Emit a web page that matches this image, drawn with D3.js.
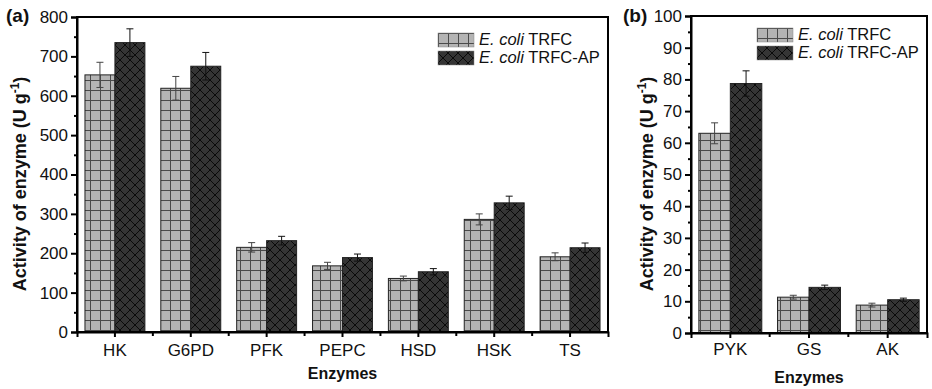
<!DOCTYPE html>
<html lang="en">
<head>
<meta charset="utf-8">
<script src="https://cdn.jsdelivr.net/npm/d3@7"></script>
<style>
  body { margin: 0; background: #fff; }
  svg { font-family: "Liberation Sans", Arial, sans-serif; }
</style>
</head>
<body>
<div id="chart"></div>
<script>
// panel (a)
var enzymesA = ["HK", "G6PD", "PFK", "PEPC", "HSD", "HSK", "TS"];
var trfcA = [653, 619, 215, 168, 136, 286, 191];
var trfcErrA = [32, 30, 12, 9, 6, 14, 10];
var apA = [735, 675, 232, 189, 153, 328, 214];
var apErrA = [35, 35, 11, 9, 8, 17, 12];
var yTicksA = [0, 100, 200, 300, 400, 500, 600, 700, 800];

// panel (b)
var enzymesB = ["PYK", "GS", "AK"];
var trfcB = [63, 11.3, 8.8];
var trfcErrB = [3.3, 0.6, 0.6];
var apB = [78.7, 14.4, 10.5];
var apErrB = [4, 0.7, 0.5];
var yTicksB = [0, 10, 20, 30, 40, 50, 60, 70, 80, 90, 100];

var seriesNames = ["TRFC", "TRFC-AP"];

var width = 932, height = 389;

var svg = d3.select("#chart").append("svg")
    .attr("width", width)
    .attr("height", height);

var defs = svg.append("defs");

var grid = defs.append("pattern")
    .attr("id", "grid")
    .attr("patternUnits", "userSpaceOnUse")
    .attr("width", 10).attr("height", 10);
grid.append("rect").attr("width", 10).attr("height", 10).attr("fill", "#b4b4b4");
grid.append("path").attr("d", "M0,0.5H10M0.5,0V10")
    .attr("stroke", "#4a4a4a").attr("stroke-width", 1).attr("fill", "none");

var cross = defs.append("pattern")
    .attr("id", "cross")
    .attr("patternUnits", "userSpaceOnUse")
    .attr("width", 10).attr("height", 10);
cross.append("rect").attr("width", 10).attr("height", 10).attr("fill", "#353535");
cross.append("path").attr("d", "M0,0L10,10M10,0L0,10M-1,9L1,11M9,-1L11,1")
    .attr("stroke", "#0a0a0a").attr("stroke-width", 1).attr("fill", "none");

var fills = ["url(#grid)", "url(#cross)"];

function drawPanel(cfg) {
    var x = d3.scaleBand()
        .domain(cfg.cats)
        .range([cfg.left, cfg.right])
        .paddingInner(cfg.pad)
        .paddingOuter(cfg.pad / 2);

    var x1 = d3.scaleBand()
        .domain([0, 1])
        .range([0, x.bandwidth()]);

    var y = d3.scaleLinear()
        .domain([0, cfg.ticks[cfg.ticks.length - 1]])
        .range([cfg.bottom, cfg.top]);

    var g = svg.append("g");

    var rows = cfg.cats.map(function(c, i) {
        return [
            {cat: c, s: 0, v: cfg.v0[i], e: cfg.e0[i]},
            {cat: c, s: 1, v: cfg.v1[i], e: cfg.e1[i]}
        ];
    });
    var flat = [].concat.apply([], rows);

    // bars
    g.selectAll("rect.bar")
        .data(flat)
        .enter()
        .append("rect")
        .attr("class", "bar")
        .attr("x", function(d) { return x(d.cat) + x1(d.s); })
        .attr("y", function(d) { return y(d.v); })
        .attr("width", x1.bandwidth())
        .attr("height", function(d) { return y(0) - y(d.v); })
        .attr("fill", function(d) { return fills[d.s]; })
        .attr("stroke", "#222")
        .attr("stroke-width", 1);

    // error bars
    var eb = g.selectAll("g.err")
        .data(flat)
        .enter()
        .append("g")
        .attr("class", "err")
        .attr("stroke", function(d) { return d.s ? "#111" : "#444"; })
        .attr("stroke-width", 1);
    eb.append("line")
        .attr("x1", function(d) { return x(d.cat) + x1(d.s) + x1.bandwidth() / 2; })
        .attr("x2", function(d) { return x(d.cat) + x1(d.s) + x1.bandwidth() / 2; })
        .attr("y1", function(d) { return y(d.v - d.e); })
        .attr("y2", function(d) { return y(d.v + d.e); });
    [1, -1].forEach(function(sign) {
        eb.append("line")
            .attr("x1", function(d) { return x(d.cat) + x1(d.s) + x1.bandwidth() / 2 - 3.5; })
            .attr("x2", function(d) { return x(d.cat) + x1(d.s) + x1.bandwidth() / 2 + 3.5; })
            .attr("y1", function(d) { return y(d.v + sign * d.e); })
            .attr("y2", function(d) { return y(d.v + sign * d.e); });
    });

    // frame
    g.append("rect")
        .attr("x", cfg.left).attr("y", cfg.top)
        .attr("width", cfg.right - cfg.left)
        .attr("height", cfg.bottom - cfg.top)
        .attr("fill", "none")
        .attr("stroke", "#000")
        .attr("stroke-width", 2);

    // y axis
    var step = cfg.ticks[1] - cfg.ticks[0];
    var minor = cfg.ticks.slice(1).map(function(t) { return t - step / 2; });
    var yAxis = g.append("g")
        .attr("transform", "translate(" + cfg.left + ",0)")
        .call(d3.axisLeft(y).tickValues(cfg.ticks).tickSize(6).tickPadding(3).tickFormat(d3.format("d")));
    g.append("g")
        .attr("transform", "translate(" + cfg.left + ",0)")
        .call(d3.axisLeft(y).tickValues(minor).tickSize(3).tickFormat(""))
        .select(".domain").remove();

    // x axis
    var xAxis = g.append("g")
        .attr("transform", "translate(0," + cfg.bottom + ")")
        .call(d3.axisBottom(x).tickSize(5).tickPadding(cfg.xpad));
    var bounds = cfg.cats.slice(1).map(function(c) { return x(c) - x.step() * cfg.pad / 2; });
    xAxis.selectAll("line.minor")
        .data(bounds)
        .enter()
        .append("line")
        .attr("class", "minor")
        .attr("x1", function(d) { return d; })
        .attr("x2", function(d) { return d; })
        .attr("y1", 0).attr("y2", 4)
        .attr("stroke", "#000").attr("stroke-width", 2);

    [yAxis, xAxis].forEach(function(ax) {
        ax.select(".domain").attr("stroke-width", 2);
        ax.selectAll(".tick line").attr("stroke-width", 2);
        ax.selectAll("text")
            .attr("font-family", "'Liberation Sans', Arial, sans-serif")
            .attr("font-size", 17)
            .attr("fill", "#111");
    });
    g.selectAll("g.tick line").attr("stroke-width", 2);

    // axis titles
    var yt = g.append("text")
        .attr("transform", "translate(" + cfg.ytx + "," + cfg.yty + ") rotate(-90)")
        .attr("text-anchor", "middle")
        .attr("font-size", 18)
        .attr("font-weight", "bold")
        .attr("fill", "#111");
    yt.append("tspan").text("Activity of enzyme (U g");
    yt.append("tspan").attr("font-size", 12).attr("dy", -7).text("-1");
    yt.append("tspan").attr("dy", 7).text(")");

    g.append("text")
        .attr("x", (cfg.left + cfg.right) / 2)
        .attr("y", cfg.xty)
        .attr("text-anchor", "middle")
        .attr("font-size", 16)
        .attr("font-weight", "bold")
        .attr("fill", "#111")
        .text("Enzymes");

    // panel label
    g.append("text")
        .attr("x", cfg.labx).attr("y", 22)
        .attr("font-size", 19)
        .attr("font-weight", "bold")
        .attr("fill", "#111")
        .text(cfg.label);

    // legend
    var lg = g.append("g")
        .attr("transform", "translate(" + cfg.legx + "," + cfg.legy + ")");
    seriesNames.forEach(function(name, i) {
        lg.append("rect")
            .attr("x", 0).attr("y", i * 18)
            .attr("width", 36).attr("height", 14)
            .attr("fill", fills[i])
            .attr("stroke", "#888").attr("stroke-width", 0.5);
        var t = lg.append("text")
            .attr("x", 41).attr("y", i * 18 + 12)
            .attr("font-size", 16.5)
            .attr("fill", "#111");
        t.append("tspan").attr("font-style", "italic").text("E. coli");
        t.append("tspan").text(" " + name);
    });
}

drawPanel({
    cats: enzymesA, v0: trfcA, e0: trfcErrA, v1: apA, e1: apErrA, ticks: yTicksA,
    left: 77, right: 608, top: 17, bottom: 332, pad: 0.21, xpad: 7,
    ytx: 26, yty: 184, xty: 379, label: "(a)", labx: 6, legx: 438, legy: 33
});

drawPanel({
    cats: enzymesB, v0: trfcB, e0: trfcErrB, v1: apB, e1: apErrB, ticks: yTicksB,
    left: 691, right: 927, top: 16, bottom: 333, pad: 0.2, xpad: 5,
    ytx: 653, yty: 184, xty: 383, label: "(b)", labx: 623, legx: 757, legy: 28
});
</script>
</body>
</html>
